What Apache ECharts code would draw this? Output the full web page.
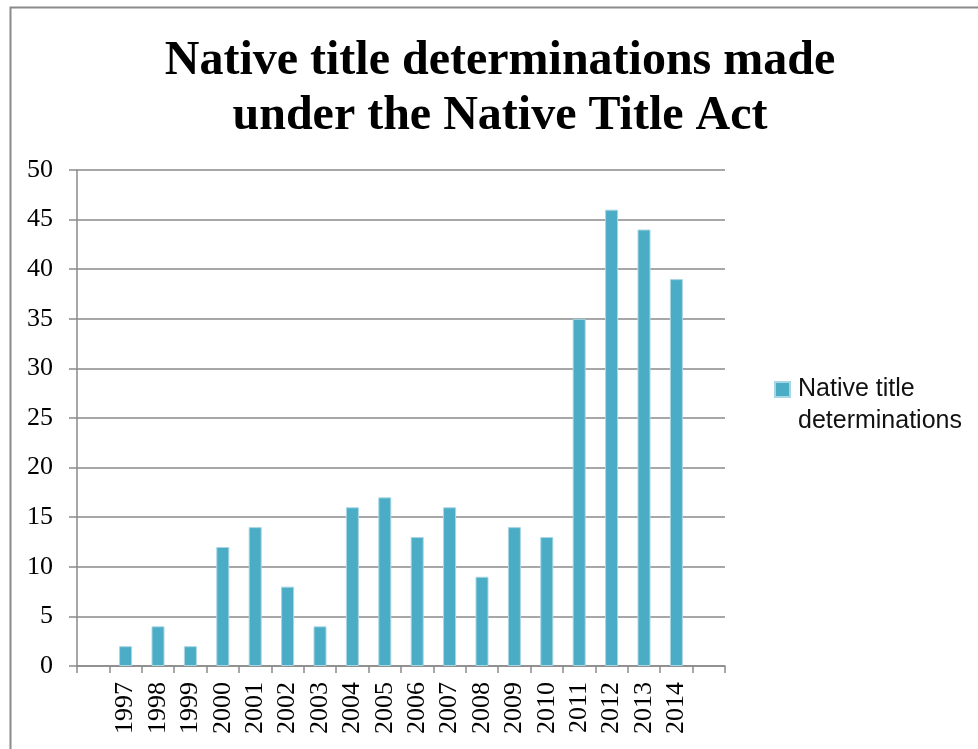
<!DOCTYPE html>
<html>
<head>
<meta charset="utf-8">
<script src="https://cdn.jsdelivr.net/npm/echarts@6/dist/echarts.min.js"></script>
<style>
html,body{margin:0;padding:0;background:#fff;}
#chart{width:978px;height:749px;}
</style>
</head>
<body>
<div id="chart"></div>
<script>
// Data
var categories = [' ', '1997', '1998', '1999', '2000', '2001', '2002', '2003', '2004', '2005', '2006', '2007', '2008', '2009', '2010', '2011', '2012', '2013', '2014', '  '];
var determinations = [null, 2, 4, 2, 12, 14, 8, 4, 16, 17, 13, 16, 9, 14, 13, 35, 46, 44, 39, null];
var seriesName = 'Native title determinations';
var titleText = 'Native title determinations made\nunder the Native Title Act';

var chart = echarts.init(document.getElementById('chart'));
var gray = '#8a8a8a';
var option = {
  animation: false,
  backgroundColor: '#fff',
  title: {
    text: titleText,
    left: 495,
    textAlign: 'center',
    top: 29,
    textStyle: {
      fontFamily: '"Liberation Serif", "Times New Roman", serif',
      fontWeight: 'bold',
      fontSize: 48,
      lineHeight: 55,
      color: '#000'
    }
  },
  graphic: [{
    type: 'rect',
    shape: { x: 10.5, y: 7.5, width: 1000, height: 800 },
    style: { fill: 'none', stroke: '#8a8a8a', lineWidth: 2 },
    silent: true
  }],
  legend: {
    left: 769,
    top: 368,
    orient: 'vertical',
    itemWidth: 18,
    itemHeight: 46,
    icon: 'path://M0,0L15,0L15,15L0,15Z M18,46L18,46Z',
    formatter: function () { return 'Native title\ndeterminations'; },
    textStyle: {
      fontFamily: '"Liberation Sans", Arial, sans-serif',
      fontSize: 25,
      lineHeight: 32,
      color: '#111'
    },
    data: [seriesName]
  },
  grid: { left: 77, right: 253, top: 170, bottom: 83, containLabel: false },
  xAxis: {
    type: 'category',
    data: categories,
    boundaryGap: true,
    axisLine: { show: true, lineStyle: { color: gray, width: 1.5 } },
    axisTick: { show: true, length: 7, interval: 0, alignWithLabel: false, lineStyle: { color: gray, width: 1.5 } },
    axisLabel: {
      interval: 0,
      rotate: 90,
      margin: 16,
      fontFamily: '"Liberation Serif", "Times New Roman", serif',
      fontSize: 26,
      color: '#000'
    },
    splitLine: { show: false }
  },
  yAxis: {
    type: 'value',
    min: 0,
    max: 50,
    interval: 5,
    axisLine: { show: true, lineStyle: { color: gray, width: 1.5 } },
    axisTick: { show: true, length: 8, lineStyle: { color: gray, width: 1.5 } },
    axisLabel: {
      margin: 24,
      fontFamily: '"Liberation Serif", "Times New Roman", serif',
      fontSize: 26,
      color: '#000'
    },
    splitLine: { show: true, lineStyle: { color: gray, width: 1.5 } }
  },
  series: [{
    name: seriesName,
    type: 'bar',
    data: determinations,
    barWidth: 13,
    itemStyle: { color: '#4BACC6', borderColor: '#a9d6e3', borderWidth: 1 }
  }]
};
chart.setOption(option);
</script>
</body>
</html>
